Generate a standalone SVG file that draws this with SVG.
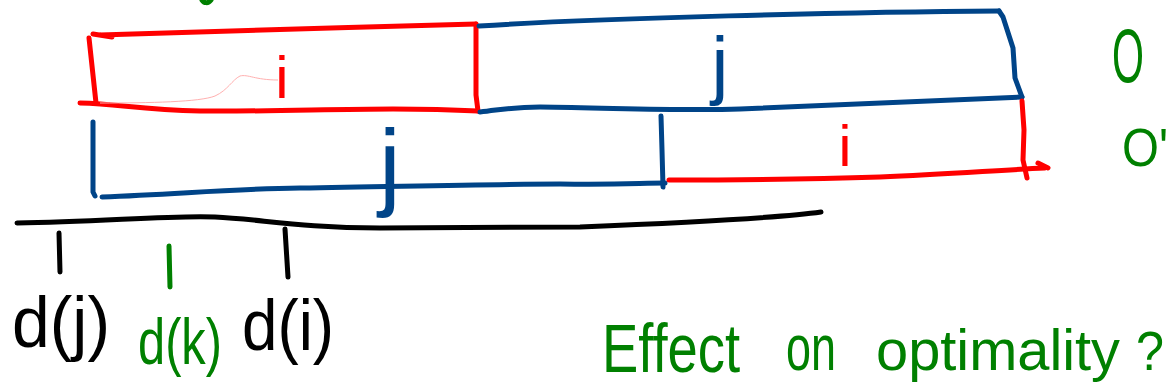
<svg xmlns="http://www.w3.org/2000/svg" width="1175" height="392" viewBox="0 0 1175 392">
<style>
.s{fill:none;stroke-linecap:round;stroke-linejoin:round;stroke-width:5}
.r{stroke:#ff0000}.b{stroke:#004488}.g{stroke:#008000}.k{stroke:#000000}
.t{font-family:"Liberation Sans",Arial,sans-serif}
.tr{fill:#ff0000}.tb{fill:#004488}.tg{fill:#008000}.tk{fill:#000000}
</style>
<rect width="1175" height="392" fill="#ffffff"/>
<g id="top-row">
  <g id="box-i-top">
    <path class="s r" d="M93,34 L112,37 M100,35 C200,32 350,27 476,24"/>
    <path class="s r" d="M89,38 L96,103" stroke-width="8"/>
    <path class="s r" d="M80,103 C120,104 140,110 200,111 C300,112 380,106 478,111"/>
    <path class="s r" d="M476,24 L476,95 L478,111"/>
    <path d="M100,103 C150,103 200,102 215,96 C228,90 232,80 240,76 C248,74 255,80 278,80" fill="none" stroke="#ffb0b0" stroke-width="1"/>
    <text class="t tr" x="282" y="98" font-size="60" text-anchor="middle">i</text>
  </g>
  <g id="box-j-top">
    <path class="s b" d="M479,26 C600,18 850,12 999,11"/>
    <path class="s b" d="M999,11 L1003,17 L1013,48 L1015,78 L1022,97"/>
    <path class="s b" d="M480,112 C500,110 510,107 540,107 C620,108 680,111 740,109 C860,104 960,99 1022,97"/>
    <text class="t tb" x="720" y="90" font-size="76" text-anchor="middle">j</text>
  </g>
</g>
<g id="bottom-row">
  <g id="box-j-bottom">
    <path class="s b" d="M93,122 L93,192 L95,196"/>
    <path class="s b" d="M102,197 C180,194 230,189 300,188 C420,186 500,184 560,184 C620,185 640,183 665,183"/>
    <path class="s b" d="M661,116 L662,150 L663,187"/>
    <text class="t tb" x="390" y="198" font-size="98" text-anchor="middle">j</text>
  </g>
  <g id="box-i-bottom">
    <path class="s r" d="M669,180 C760,180 820,179 880,177 C950,174 1000,170 1045,168"/>
    <path class="s r" d="M1038,163 L1048,168"/>
    <path class="s r" d="M1022,101 L1024,130 L1023,160 L1027,178"/>
    <text class="t tr" x="845" y="166" font-size="58" text-anchor="middle">i</text>
  </g>
</g>
<g id="timeline">
  <path class="s k" d="M17,223 C100,222 170,215 215,217 C260,219 300,228 380,228 L580,227 C700,222 780,218 821,212" stroke-width="6"/>
  <path class="s k" d="M59,233 L60,272"/>
  <path class="s g" d="M169,246 L170,287"/>
  <path class="s k" d="M285,229 L288,277"/>
  <text class="t tk" x="12" y="347" font-size="72" textLength="98" lengthAdjust="spacingAndGlyphs">d(j)</text>
  <text class="t tg" x="138" y="364" font-size="64" textLength="84" lengthAdjust="spacingAndGlyphs">d(k)</text>
  <text class="t tk" x="242" y="350" font-size="72" textLength="92" lengthAdjust="spacingAndGlyphs">d(i)</text>
</g>
<g id="labels">
  <path class="s g" d="M202,0 C204,3 208,4 211,0" stroke-width="6"/>
  <text class="t tg" x="1112" y="82" font-size="76" textLength="32" lengthAdjust="spacingAndGlyphs">O</text>
  <text class="t tg" x="1122" y="166" font-size="54" textLength="46" lengthAdjust="spacingAndGlyphs">O'</text>
  <text class="t tg" x="602" y="372" font-size="68" textLength="138" lengthAdjust="spacingAndGlyphs">Effect</text>
  <text class="t tg" x="786" y="370" font-size="64" textLength="50" lengthAdjust="spacingAndGlyphs">on</text>
  <text class="t tg" x="876" y="370" font-size="58" textLength="244" lengthAdjust="spacingAndGlyphs">optimality</text>
  <text class="t tg" x="1136" y="370" font-size="56" textLength="28" lengthAdjust="spacingAndGlyphs">?</text>
</g>
</svg>
